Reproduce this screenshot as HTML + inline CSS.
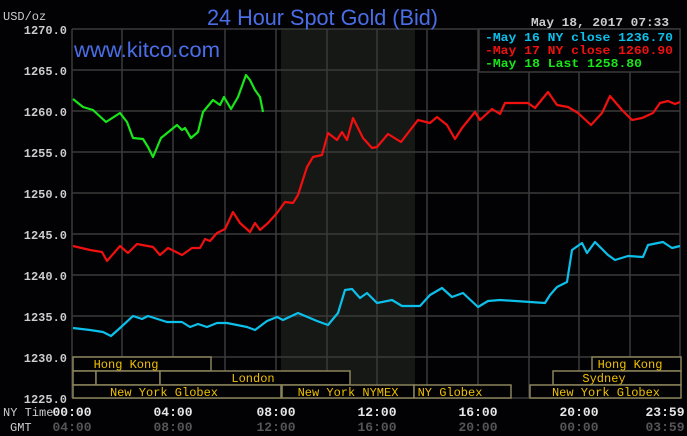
<!DOCTYPE html><html><head><style>body{margin:0;background:#000}svg{display:block}</style></head><body>
<svg width="687" height="436" xmlns="http://www.w3.org/2000/svg" font-family="Liberation Mono, monospace">
<rect width="687" height="436" fill="#020205"/>
<rect x="281" y="29" width="134" height="369" fill="#161815"/>
<g stroke="#3a3a3a" stroke-width="1.5">
<line x1="72" y1="29" x2="680" y2="29"/><line x1="72" y1="70" x2="680" y2="70"/><line x1="72" y1="111" x2="680" y2="111"/><line x1="72" y1="152" x2="680" y2="152"/><line x1="72" y1="193" x2="680" y2="193"/><line x1="72" y1="234" x2="680" y2="234"/><line x1="72" y1="275" x2="680" y2="275"/><line x1="72" y1="316" x2="680" y2="316"/><line x1="72" y1="357" x2="680" y2="357"/><line x1="72" y1="398" x2="680" y2="398"/>
<line x1="72" y1="29" x2="72" y2="398"/><line x1="122" y1="29" x2="122" y2="398"/><line x1="173" y1="29" x2="173" y2="398"/><line x1="225" y1="29" x2="225" y2="398"/><line x1="276" y1="29" x2="276" y2="398"/><line x1="327" y1="29" x2="327" y2="398"/><line x1="377" y1="29" x2="377" y2="398"/><line x1="427" y1="29" x2="427" y2="398"/><line x1="478" y1="29" x2="478" y2="398"/><line x1="529" y1="29" x2="529" y2="398"/><line x1="579" y1="29" x2="579" y2="398"/><line x1="630" y1="29" x2="630" y2="398"/><line x1="680" y1="29" x2="680" y2="398"/>
</g>
<g fill="none" stroke-width="2.2" stroke-linejoin="round">
<polyline stroke="#19e619" points="73,99 83,107 93,110 106,122 120,113 127,122 133,138 143,139 148,147 153,157 161,138 177,125 182,130 185,128 191,138 198,132 203,112 213,100 220,105 224,97 231,109 238,97 246,75 250,80 255,90 260,97 263,112"/>
<polyline stroke="#f01010" points="73,246 90,250 102,252 107,261 120,246 128,253 137,244 153,247 160,255 168,248 182,255 192,248 200,248 205,239 210,241 217,233 225,229 233,212 240,223 250,232 255,223 260,230 268,223 277,213 285,202 293,203 298,195 307,167 313,157 322,155 328,133 337,140 342,132 347,140 353,118 363,138 372,148 377,147 388,134 401,142 418,120 430,123 437,117 447,125 455,139 462,128 475,112 480,120 492,109 500,114 505,103 528,103 535,108 548,92 557,105 568,107 578,113 591,125 602,113 610,96 622,110 632,120 642,118 653,113 660,103 668,101 675,104 680,102"/>
<polyline stroke="#0cc0ea" points="73,328 90,330 103,332 111,336 120,328 133,316 142,319 148,316 167,322 182,322 190,327 198,324 207,327 217,323 227,323 237,325 247,327 255,330 267,321 277,317 283,320 298,313 317,321 328,325 338,313 345,290 352,289 360,298 367,293 377,303 392,300 402,306 420,306 430,295 442,288 452,297 463,293 478,307 488,301 500,300 545,303 550,295 557,287 567,282 572,250 582,243 587,253 595,242 608,255 615,260 628,256 643,257 648,245 663,242 672,248 680,246"/>
</g>
<g stroke="#8a835a" stroke-width="1.5" fill="#020205">
<rect x="73" y="357" width="138" height="14"/><rect x="592" y="357" width="89" height="14"/>
<rect x="73" y="371" width="23" height="14"/><rect x="96" y="371" width="64" height="14"/><rect x="160" y="371" width="190" height="14"/><rect x="553" y="371" width="128" height="14"/>
<rect x="73" y="385" width="208" height="13"/><rect x="282" y="385" width="132" height="13"/><rect x="414" y="385" width="97" height="13"/><rect x="530" y="385" width="151" height="13"/>
</g>
<g fill="#f0c000" font-size="12" text-anchor="middle">
<text x="126" y="368">Hong Kong</text><text x="630" y="368">Hong Kong</text>
<text x="253" y="382">London</text><text x="604" y="382">Sydney</text>
<text x="164" y="396">New York Globex</text><text x="348" y="396">New York NYMEX</text><text x="450" y="396">NY Globex</text><text x="606" y="396">New York Globex</text>
</g>
<g fill="#cccccc" font-size="12" text-anchor="end" font-weight="bold">
<text x="67" y="34">1270.0</text><text x="67" y="75">1265.0</text><text x="67" y="116">1260.0</text><text x="67" y="157">1255.0</text><text x="67" y="198">1250.0</text><text x="67" y="239">1245.0</text><text x="67" y="280">1240.0</text><text x="67" y="321">1235.0</text><text x="67" y="362">1230.0</text><text x="67" y="403">1225.0</text>
</g>
<text x="3" y="20" fill="#cccccc" font-size="12">USD/oz</text>
<text x="3" y="416" fill="#cccccc" font-size="12">NY Time</text>
<text x="10" y="431" fill="#cccccc" font-size="12">GMT</text>
<g fill="#e6e6e6" font-size="13" font-weight="bold" text-anchor="middle">
<text x="72" y="416">00:00</text><text x="173" y="416">04:00</text><text x="276" y="416">08:00</text><text x="377" y="416">12:00</text><text x="478" y="416">16:00</text><text x="579" y="416">20:00</text><text x="665" y="416">23:59</text>
</g>
<g fill="#555555" font-size="13" font-weight="bold" text-anchor="middle">
<text x="72" y="431">04:00</text><text x="173" y="431">08:00</text><text x="276" y="431">12:00</text><text x="377" y="431">16:00</text><text x="478" y="431">20:00</text><text x="579" y="431">00:00</text><text x="665" y="431">03:59</text>
</g>
<text x="207" y="25" fill="#4a6ee6" font-family="Liberation Sans, sans-serif" font-size="22" textLength="231" lengthAdjust="spacingAndGlyphs">24 Hour Spot Gold (Bid)</text>
<text x="74" y="57" fill="#4a6ee6" font-family="Liberation Sans, sans-serif" font-size="21" textLength="146" lengthAdjust="spacingAndGlyphs">www.kitco.com</text>
<text x="531" y="26" fill="#cccccc" font-size="12" font-weight="bold" textLength="138" lengthAdjust="spacingAndGlyphs">May 18, 2017 07:33</text>
<rect x="479" y="29" width="201" height="43" fill="#020205" stroke="#3a3a3a" stroke-width="1.5"/>
<g font-size="12" font-weight="bold">
<text x="485" y="41" fill="#0cc0ea" textLength="188" lengthAdjust="spacingAndGlyphs">-May 16 NY close 1236.70</text>
<text x="485" y="54" fill="#f01010" textLength="188" lengthAdjust="spacingAndGlyphs">-May 17 NY close 1260.90</text>
<text x="485" y="67" fill="#19e619" textLength="157" lengthAdjust="spacingAndGlyphs">-May 18 Last 1258.80</text>
</g>
</svg></body></html>
